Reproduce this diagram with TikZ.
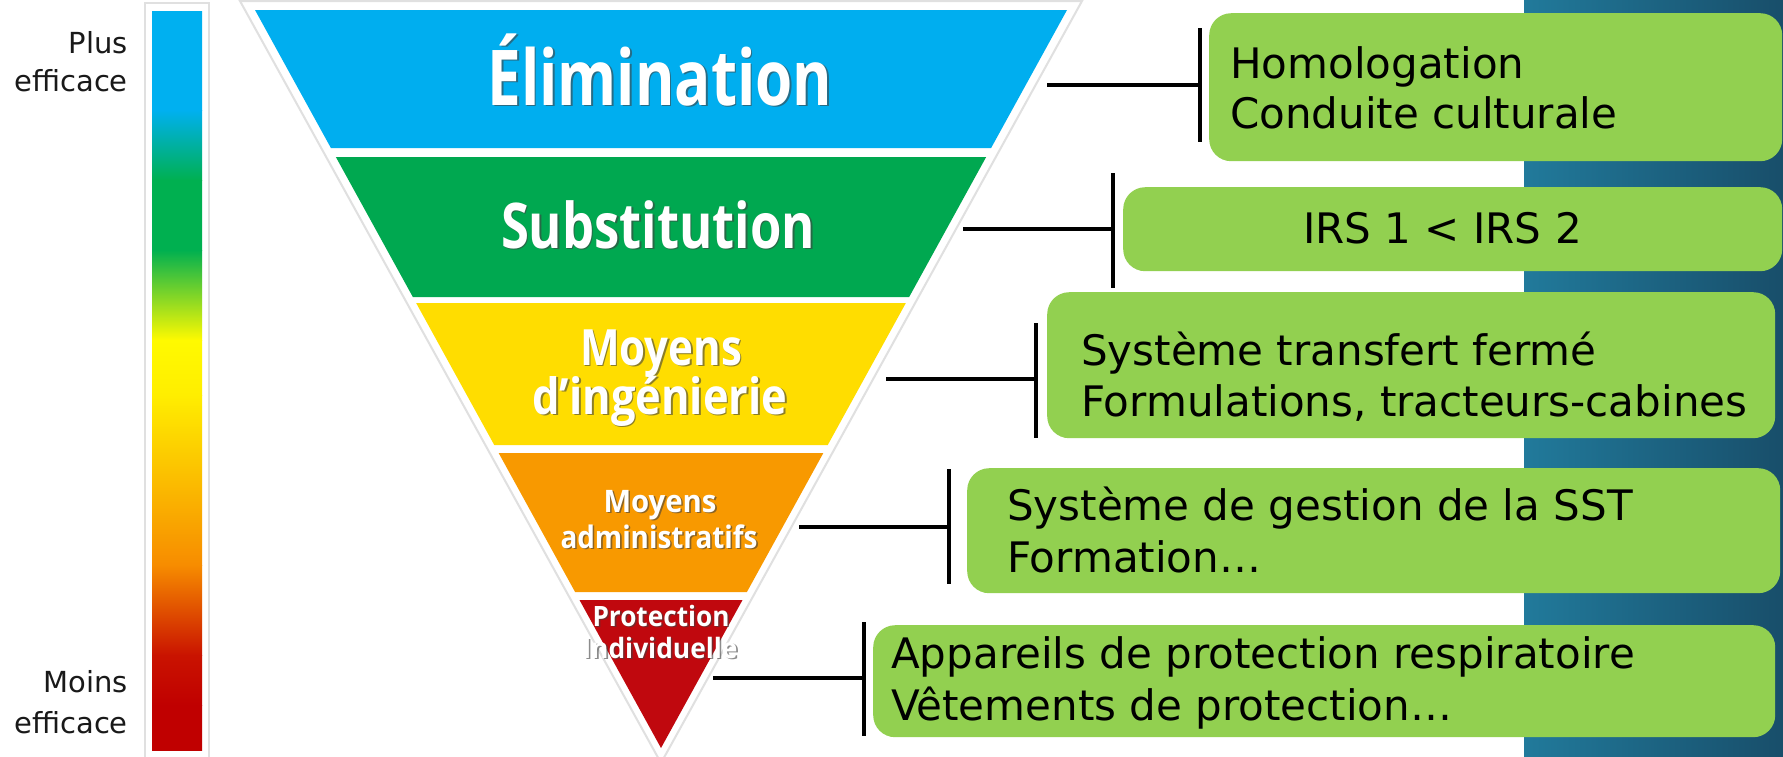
\documentclass[tikz,border=0pt]{standalone}
\usepackage{fontspec}
\setmainfont{DejaVu Sans}
\newfontfamily\pyrfont{Open Sans}
\usetikzlibrary{calc}
\definecolor{cBlue}{RGB}{0,174,239}
\definecolor{cGreen}{RGB}{0,168,80}
\definecolor{cYellow}{RGB}{255,221,0}
\definecolor{cOrange}{RGB}{248,153,0}
\definecolor{cRed}{RGB}{192,8,14}
\definecolor{boxGreen}{RGB}{146,208,80}
\definecolor{panelL}{RGB}{33,122,155}
\definecolor{panelR}{RGB}{24,78,106}
\definecolor{gBlue}{RGB}{0,176,240}
\definecolor{gGreen}{RGB}{0,176,80}
\definecolor{gYellow}{RGB}{255,250,0}
\definecolor{gOrange}{RGB}{247,140,0}
\definecolor{gRed}{RGB}{192,0,0}
\newcommand\plab[6]{%
  \node[anchor=base,inner sep=0pt,text=black!75,opacity=.6] (#1s) at (#2+1.6,#3+1.6)
    {\resizebox{#5pt}{\height}{\pyrfont\bfseries\fontsize{#4}{#4}\selectfont #6}};
  \node[anchor=base,inner sep=0pt,text=white] (#1) at (#2,#3)
    {\resizebox{#5pt}{\height}{\pyrfont\bfseries\fontsize{#4}{#4}\selectfont #6}};}
\begin{document}
\begin{tikzpicture}[x=1pt,y=-1pt,
  conn/.style={line width=3.6pt,black},
  gbox/.style={fill=boxGreen,rounded corners=22pt},
  btext/.style={anchor=base west,inner sep=0pt,font=\fontsize{42}{50}\selectfont},
  stext/.style={anchor=base east,inner sep=0pt,text=black!90,font=\fontsize{29}{35}\selectfont}]
\useasboundingbox (0,0) rectangle (1783,756);
\fill[white] (0,0) rectangle (1783,756);
% right panel
\shade[left color=panelL,right color=panelR] (1524,0) rectangle (1783,756);
% left scale bar
\fill[white,draw=black!12,line width=1.5pt] (145,3) rectangle (209,760);
\shade[top color=gBlue,bottom color=gBlue] (152,11) rectangle (202,110.5);
\shade[top color=gBlue,bottom color=gGreen] (152,110) rectangle (202,180.5);
\shade[top color=gGreen,bottom color=gGreen] (152,180) rectangle (202,250.5);
\shade[top color=gGreen,bottom color=gYellow] (152,250) rectangle (202,340.5);
\shade[top color=gYellow,bottom color=gYellow!90!orange] (152,340) rectangle (202,395.5);
\shade[top color=gYellow!90!orange,bottom color=gOrange] (152,395) rectangle (202,565.5);
\shade[top color=gOrange,bottom color=gRed!85!orange] (152,565) rectangle (202,655.5);
\shade[top color=gRed!85!orange,bottom color=gRed] (152,655) rectangle (202,705.5);
\shade[top color=gRed,bottom color=gRed] (152,705) rectangle (202,750);
\node[stext] (plus) at (128,53) {Plus};
\node[stext] (eff1) at (128,91) {efficace};
\node[stext] (moins) at (128,692) {Moins};
\node[stext] (eff2) at (128,733) {efficace};
% pyramid
\fill[white,draw=black!12,line width=2pt] (240,1) -- (1082,1) -- (661,763) -- cycle;
\fill[cBlue] (255,10) -- (1067,10) -- (991.1,148) -- (330.9,148) -- cycle;
\fill[cGreen] (335.85,157) -- (986.15,157) -- (909.15,297) -- (412.85,297) -- cycle;
\fill[cYellow] (416.15,303) -- (905.85,303) -- (827.75,445) -- (494.25,445) -- cycle;
\fill[cOrange] (498.65,453) -- (823.35,453) -- (746.9,592) -- (575.1,592) -- cycle;
\fill[cRed] (579.5,600) -- (742.5,600) -- (661,748) -- cycle;
\plab{lelim}{660}{105}{77}{345}{Élimination}
\plab{lsubs}{658}{248}{63}{314}{Substitution}
\plab{lmoy1}{661}{365}{50}{162}{Moyens}
\plab{ling}{660}{414}{50}{255}{d’ingénierie}
\plab{lmoy2}{660}{512}{31}{113}{Moyens}
\plab{ladm}{659}{548}{31}{197}{administratifs}
\plab{lprot}{661}{626}{28}{137}{Protection}
\plab{lindiv}{660}{658}{28}{155}{Individuelle}
% boxes
\node[gbox,anchor=north west,minimum width=573pt,minimum height=148pt,inner sep=0pt] (box1) at (1209,13) {};
\node[gbox,anchor=north west,minimum width=659pt,minimum height=84pt,inner sep=0pt] (box2) at (1123,187) {};
\node[gbox,anchor=north west,minimum width=728pt,minimum height=146pt,inner sep=0pt] (box3) at (1047,292) {};
\node[gbox,anchor=north west,minimum width=813pt,minimum height=125pt,inner sep=0pt] (box4) at (967,468) {};
\node[gbox,anchor=north west,minimum width=902pt,minimum height=112pt,inner sep=0pt] (box5) at (873,625) {};
\node[btext] (t1a) at (1230,78) {Homologation};
\node[btext] (t1b) at (1230,128) {Conduite culturale};
\node[btext] (t2) at (1303,243) {IRS 1 < IRS 2};
\node[btext] (t3a) at (1081,365) {Système transfert fermé};
\node[btext] (t3b) at (1081,416) {Formulations, tracteurs-cabines};
\node[btext] (t4a) at (1007,520) {Système de gestion de la SST};
\node[btext] (t4b) at (1007,572) {Formation…};
\node[btext] (t5a) at (891,668) {Appareils de protection respiratoire};
\node[btext] (t5b) at (891,720) {Vêtements de protection…};
% connectors
\coordinate (s1) at (1047,85);  \coordinate (b1t) at (1200,28);  \coordinate (b1b) at (1200,142);
\coordinate (s2) at (963,229);  \coordinate (b2t) at (1113,173); \coordinate (b2b) at (1113,288);
\coordinate (s3) at (886,379);  \coordinate (b3t) at (1036,323); \coordinate (b3b) at (1036,438);
\coordinate (s4) at (799,527);  \coordinate (b4t) at (949,469);  \coordinate (b4b) at (949,584);
\coordinate (s5) at (713,678);  \coordinate (b5t) at (864,622);  \coordinate (b5b) at (864,736);
\foreach \i in {1,...,5}{
  \draw[conn] (b\i t) -- (b\i b);
  \draw[conn] (s\i) -- (s\i -| b\i t);
}
\end{tikzpicture}
\end{document}
